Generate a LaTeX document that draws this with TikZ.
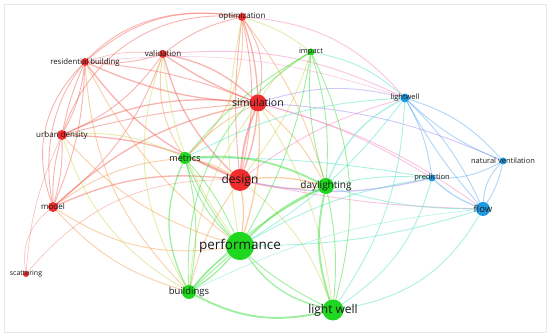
\documentclass[tikz,border=0pt]{standalone}
\usepackage{fontspec}
\setmainfont{Open Sans}
\usetikzlibrary{backgrounds}
\definecolor{nred}{RGB}{240,45,45}
\definecolor{ngreen}{RGB}{30,215,30}
\definecolor{nblue}{RGB}{30,155,230}
\definecolor{ered}{RGB}{240,90,80}
\definecolor{eorange}{RGB}{245,150,60}
\definecolor{eyellow}{RGB}{200,215,70}
\definecolor{egreen}{RGB}{45,220,45}
\definecolor{eblue}{RGB}{80,165,240}
\definecolor{epink}{RGB}{245,125,190}
\definecolor{epurple}{RGB}{155,130,240}
\definecolor{eteal}{RGB}{70,225,195}
\newcommand\fsz[1]{\fontsize{#1}{#1}\selectfont}
\begin{document}
\begin{tikzpicture}[x=1pt,y=1pt,
  nd/.style={circle,inner sep=0pt,draw=none},
  rn/.style={nd,fill=nred},
  gn/.style={nd,fill=ngreen},
  bn/.style={nd,fill=nblue},
  lab/.style={text=black!90,inner sep=0pt},
  ee/.style={draw opacity=0.45,line width=0.9pt},
  re/.style={ee,draw=ered},
  oe/.style={ee,draw=eorange},
  ye/.style={ee,draw=eyellow},
  ge/.style={ee,draw=egreen},
  be/.style={ee,draw=eblue},
  pe/.style={ee,draw=epink},
  ue/.style={ee,draw=epurple},
  te/.style={ee,draw=eteal},
  thk/.style={line width=1.9pt},
  med/.style={line width=1.3pt},
  thn/.style={line width=0.6pt,draw opacity=0.4}
]
\useasboundingbox (0,0) rectangle (550,336);
% nodes
\node[rn,minimum size=8pt] (O) at (242,319) {};
\node[rn,minimum size=8pt] (V) at (163,282) {};
\node[rn,minimum size=8pt] (RB) at (85,274) {};
\node[rn,minimum size=17pt] (S) at (258,233) {};
\node[rn,minimum size=10pt] (UD) at (62,201) {};
\node[rn,minimum size=10pt] (M) at (53,129) {};
\node[rn,minimum size=22pt] (D) at (240,156) {};
\node[rn,minimum size=6pt] (Sc) at (26,62) {};
\node[gn,minimum size=12pt] (Me) at (185,178) {};
\node[gn,minimum size=28pt] (P) at (240,90) {};
\node[gn,minimum size=14pt] (B) at (189,44) {};
\node[gn,minimum size=7pt] (I) at (311,284) {};
\node[gn,minimum size=16pt] (Dl) at (326,150) {};
\node[gn,minimum size=21pt] (LW) at (333,26) {};
\node[bn,minimum size=9pt] (lw) at (405,238) {};
\node[bn,minimum size=7pt] (NV) at (503,175) {};
\node[bn,minimum size=7pt] (Pr) at (432,158) {};
\node[bn,minimum size=14pt] (F) at (483,127) {};
% labels
\node[lab,font=\fsz{8}] (Ol) at (O) {optimization};
\node[lab,font=\fsz{8}] (Vl) at (V) {validation};
\node[lab,font=\fsz{7.8}] (RBl) at (RB) {residential building};
\node[lab,font=\fsz{10.5}] (Sl) at (S) {simulation};
\node[lab,font=\fsz{8}] (UDl) at (UD) {urban density};
\node[lab,font=\fsz{8}] (Ml) at (M) {model};
\node[lab,font=\fsz{12}] (Dl2) at (D) {design};
\node[lab,font=\fsz{7}] (Scl) at (Sc) {scattering};
\node[lab,font=\fsz{9}] (Mel) at (Me) {metrics};
\node[lab,font=\fsz{13.5}] (Pl) at (P) {performance};
\node[lab,font=\fsz{9.5}] (Bl) at (B) {buildings};
\node[lab,font=\fsz{7.5}] (Il) at (I) {impact};
\node[lab,font=\fsz{10}] (Dll) at (Dl) {daylighting};
\node[lab,font=\fsz{12}] (LWl) at (LW) {light well};
\node[lab,font=\fsz{7.5}] (lwl) at (lw) {lightwell};
\node[lab,font=\fsz{7.5}] (NVl) at (NV) {natural ventilation};
\node[lab,font=\fsz{7.5}] (Prl) at (Pr) {prediction};
\node[lab,font=\fsz{9.5}] (Fl) at (F) {flow};
\begin{pgfonlayer}{background}
\fill[white] (0,0) rectangle (550,336);
\draw[black!9,line width=0.8pt] (4,4) rectangle (546,332);
% red-red
\path (O) edge[re,bend right=55,looseness=1.2] (M)
      (O) edge[re,bend right=38] (UD)
      (O) edge[re,bend right=25] (RB)
      (O) edge[re,bend right=12] (V)
      (O) edge[re,med,bend left=8] (S)
      (O) edge[re,bend left=22] (S)
      (O) edge[re,bend left=12] (D)
      (O) edge[re,bend right=6] (D)
      (V) edge[re,bend left=10] (RB)
      (V) edge[re,thn,bend right=12] (RB)
      (V) edge[re,med,bend left=15] (S)
      (V) edge[re,med,bend right=6] (S)
      (V) edge[re,med,bend right=15] (D)
      (V) edge[re,bend left=15] (UD)
      (V) edge[re,bend left=15] (M)
      (V) edge[oe,bend right=20] (Me)
      (RB) edge[re,med,bend right=10] (S)
      (RB) edge[re,bend left=8] (S)
      (RB) edge[re,bend left=10] (UD)
      (RB) edge[re,bend right=6] (UD)
      (RB) edge[re,bend left=10] (M)
      (RB) edge[re,bend right=32] (M)
      (RB) edge[re,med,bend right=15] (D)
      (S) edge[re,thk,bend right=8] (D)
      (S) edge[re,med,bend left=8] (D)
      (S) edge[re,med,bend right=15] (UD)
      (S) edge[re,bend right=5] (UD)
      (S) edge[re,med,bend right=15] (M)
      (UD) edge[re,bend left=8] (M)
      (UD) edge[re,bend right=8] (M)
      (UD) edge[re,med,bend left=12] (D)
      (M) edge[re,med,bend left=15] (D)
      (M) edge[re,thn,bend right=30] (Sc)
      (Sc) edge[re,thn,bend left=25] (D)
      (UD) edge[re,thn,bend right=10] (Sc);
% red-green
\path (S) edge[oe,med,bend left=10] (P)
      (S) edge[oe,bend right=10] (Me)
      (S) edge[oe,bend left=10] (Dl)
      (S) edge[ye,bend right=15] (B)
      (S) edge[ye,bend left=12] (LW)
      (S) edge[ye,bend left=15] (I)
      (D) edge[oe,med,bend left=8] (P)
      (D) edge[oe,bend right=10] (Me)
      (D) edge[oe,med,bend left=10] (Dl)
      (D) edge[oe,bend right=10] (Dl)
      (D) edge[oe,bend right=10] (B)
      (D) edge[ye,bend left=15] (LW)
      (D) edge[ye,bend right=10] (I)
      (M) edge[oe,bend right=20] (P)
      (M) edge[oe,bend right=15] (B)
      (M) edge[oe,bend left=15] (Me)
      (UD) edge[oe,bend right=15] (P)
      (UD) edge[ye,bend right=20] (B)
      (UD) edge[ye,bend left=15] (Me)
      (RB) edge[oe,bend right=20] (B)
      (RB) edge[oe,bend right=12] (P)
      (V) edge[ye,bend right=15] (P)
      (V) edge[ye,bend right=25] (B)
      (O) edge[oe,bend left=10] (Dl)
      (O) edge[ye,bend left=10] (I)
      (O) edge[ye,bend right=10] (P)
      (O) edge[oe,bend left=25] (Me);
% red-blue
\path (S) edge[ue,bend left=15] (lw)
      (D) edge[pe,bend left=10] (lw)
      (S) edge[pe,bend left=8] (Pr)
      (D) edge[ue,med,bend right=12] (Pr)
      (S) edge[pe,bend left=10] (F)
      (D) edge[pe,bend right=5] (F)
      (O) edge[pe,bend left=22] (lw)
      (V) edge[pe,bend left=15] (lw)
      (S) edge[ue,bend left=10] (NV)
      (RB) edge[pe,thn,bend left=12] (lw);
% green-blue
\path (Dl) edge[te,med,bend left=20] (lw)
      (Dl) edge[te,bend left=8] (Pr)
      (Dl) edge[te,bend right=8] (F)
      (P) edge[te,bend right=10] (lw)
      (P) edge[te,bend left=10] (Pr)
      (P) edge[te,bend right=8] (F)
      (LW) edge[te,bend right=20] (Pr)
      (LW) edge[te,bend right=25] (F)
      (LW) edge[te,bend right=15] (lw)
      (I) edge[te,bend left=15] (lw)
      (Me) edge[te,bend left=12] (lw)
      (Me) edge[te,bend left=5] (Pr)
      (B) edge[te,thn,bend left=10] (F);
% green-green
\path (P) edge[ge,med,bend left=8] (B)
      (P) edge[ge,bend right=8] (B)
      (P) edge[ge] (B)
      (P) edge[ge,med,bend right=20] (LW)
      (P) edge[ge,thk,bend left=10] (Dl)
      (P) edge[ge,bend left=15] (Me)
      (P) edge[ge,bend right=8] (Me)
      (P) edge[ge,bend right=10] (I)
      (B) edge[ge,thk,bend right=20] (LW)
      (B) edge[ge,bend left=10] (Dl)
      (B) edge[ge,med,bend left=25] (Me)
      (B) edge[ge,bend right=12] (Me)
      (B) edge[ge,bend left=30] (I)
      (Dl) edge[ge,thk,bend right=15] (LW)
      (Dl) edge[ge,bend left=8] (LW)
      (Me) edge[ge,thk,bend left=15] (Dl)
      (Dl) edge[ge,bend left=10] (I)
      (Dl) edge[ge,bend right=10] (I)
      (Me) edge[ge,bend left=10] (I)
      (Me) edge[ge,bend right=20] (LW)
      (I) edge[ge,bend left=20] (LW);
% blue-blue
\path (lw) edge[be,bend left=15] (NV)
      (lw) edge[be,bend right=10] (NV)
      (lw) edge[be,bend left=10] (Pr)
      (lw) edge[be,bend left=10] (F)
      (lw) edge[be,bend right=6] (F)
      (Pr) edge[be,bend right=15] (NV)
      (Pr) edge[be,med,bend right=10] (F)
      (NV) edge[be,bend right=20] (F)
      (NV) edge[be,bend left=10] (F);
\end{pgfonlayer}
\end{tikzpicture}
\end{document}
